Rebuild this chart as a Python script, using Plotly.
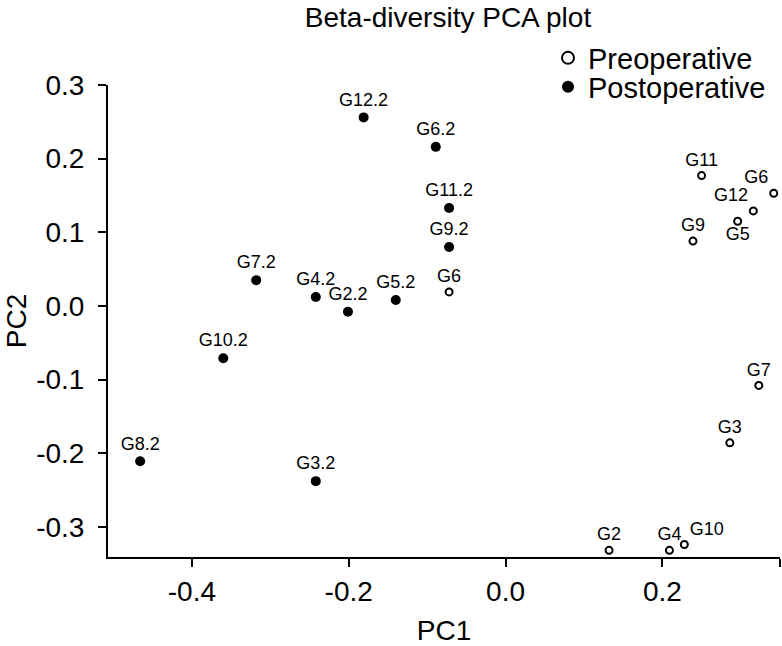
"""Beta-diversity PCA plot — Preoperative vs Postoperative."""
import plotly.graph_objects as go

# Preoperative samples (open circles)
pre_labels = ["G11", "G6", "G12", "G5", "G9", "G6", "G7", "G3", "G2", "G4", "G10"]
pre_pc1 = [0.250, 0.342, 0.316, 0.296, 0.239, -0.072, 0.323, 0.286, 0.132, 0.209, 0.228]
pre_pc2 = [0.177, 0.153, 0.129, 0.115, 0.088, 0.019, -0.108, -0.186, -0.332, -0.332, -0.324]

# Postoperative samples (filled circles)
post_labels = ["G12.2", "G6.2", "G11.2", "G9.2", "G7.2", "G4.2", "G2.2", "G5.2", "G10.2", "G8.2", "G3.2"]
post_pc1 = [-0.181, -0.089, -0.072, -0.072, -0.318, -0.242, -0.201, -0.140, -0.360, -0.466, -0.242]
post_pc2 = [0.256, 0.216, 0.133, 0.080, 0.035, 0.012, -0.008, 0.008, -0.071, -0.211, -0.238]

x_tickvals = [-0.4, -0.2, 0.0, 0.2, 0.35]
x_ticktext = ["-0.4", "-0.2", "0.0", "0.2", ""]
y_tickvals = [-0.3, -0.2, -0.1, 0.0, 0.1, 0.2, 0.3]
y_ticktext = ["-0.3", "-0.2", "-0.1", "0.0", "0.1", "0.2", "0.3"]

FONT = "Liberation Sans, Arial, sans-serif"
W, H = 782, 646

# label placement per preoperative point (most sit above the marker)
pre_pos = ["top center", "top left", "top left", "bottom center", "top center", "top center",
           "top center", "top center", "top center", "top center", "top right"]

fig = go.Figure()
fig.add_trace(go.Scatter(
    x=pre_pc1, y=pre_pc2, text=pre_labels, name="Preoperative", legend="legend",
    mode="markers+text", textposition=pre_pos, cliponaxis=False,
    marker=dict(symbol="circle-open", size=7, color="black", line=dict(width=2, color="black")),
    textfont=dict(family=FONT, size=18, color="black"),
))
fig.add_trace(go.Scatter(
    x=post_pc1, y=post_pc2, text=post_labels, name="Postoperative", legend="legend2",
    mode="markers+text", textposition="top center", cliponaxis=False,
    marker=dict(symbol="circle", size=10, color="black"),
    textfont=dict(family=FONT, size=18, color="black"),
))

axis_common = dict(
    showline=True, linecolor="black", linewidth=2,
    ticks="outside", ticklen=8, tickwidth=2, tickcolor="black",
    showgrid=False, zeroline=False, automargin=False,
    tickfont=dict(family=FONT, size=28, color="black"),
    title_font=dict(family=FONT, size=28, color="black"),
)

fig.update_xaxes(range=[-0.507, 0.35], tickvals=x_tickvals, ticktext=x_ticktext,
                 title_text="PC1", title_standoff=15, **axis_common)
fig.update_yaxes(range=[-0.341, 0.30], tickvals=y_tickvals, ticktext=y_ticktext,
                 title_text="PC2", title_standoff=1, ticklabelstandoff=8, **axis_common)

legend_common = dict(xref="container", yref="container", xanchor="left", yanchor="middle",
                     font=dict(family=FONT, size=29, color="black"), itemsizing="constant",
                     bgcolor="rgba(0,0,0,0)", itemclick=False, borderwidth=0)

fig.update_layout(
    width=W, height=H,
    margin=dict(l=108, r=2, t=85, b=89, autoexpand=False),
    plot_bgcolor="white", paper_bgcolor="white",
    title=dict(text="Beta-diversity PCA plot", xref="container", yref="container",
               x=448 / W, xanchor="center", y=1 - 17 / H, yanchor="middle",
               font=dict(family=FONT, size=28, color="black")),
    legend=dict(x=548 / W, y=1 - 58 / H, **legend_common),
    legend2=dict(x=548 / W, y=1 - 87 / H, **legend_common),
    showlegend=True,
)

# page body has a default 8px margin; drop it so the figure sits at the window corner
fig.write_html("out.html", config={"displayModeBar": False},
               post_script="document.body.style.margin='0';")
